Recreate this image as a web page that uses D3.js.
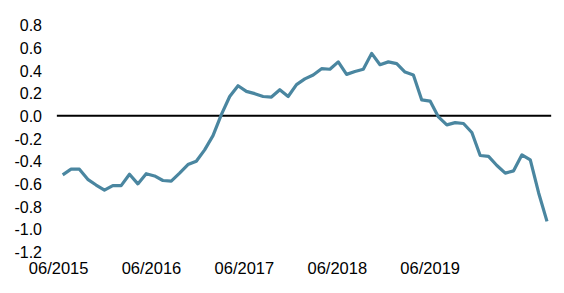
<!DOCTYPE html>
<html>
<head>
<meta charset="utf-8">
<script src="https://cdn.jsdelivr.net/npm/d3@7"></script>
<style>
  body { margin: 0; background: #fff; }
  svg text { font-family: "Liberation Sans", Arial, Helvetica, sans-serif; fill: #000; }
</style>
</head>
<body>
<svg></svg>
<script>
// monthly-ish readings, left to right
let values = [-0.52, -0.47, -0.47, -0.56, -0.61, -0.655, -0.615, -0.615, -0.515, -0.60,
              -0.51, -0.53, -0.57, -0.575, -0.505, -0.43, -0.40, -0.30, -0.175, 0.01,
              0.17, 0.265, 0.215, 0.195, 0.17, 0.165, 0.23, 0.17, 0.275, 0.325,
              0.36, 0.415, 0.41, 0.475, 0.365, 0.39, 0.41, 0.55, 0.45, 0.475,
              0.46, 0.385, 0.36, 0.14, 0.13, -0.01, -0.08, -0.06, -0.068, -0.147,
              -0.35, -0.358, -0.438, -0.505, -0.485, -0.344, -0.388, -0.68, -0.93]

let xTickLabels = ["06/2015", "06/2016", "06/2017", "06/2018", "06/2019"]
let xTickPos = [-0.55, 10.57, 21.7, 32.83, 43.95]   // where the labels sit on the index axis
let yTicks = [0.8, 0.6, 0.4, 0.2, 0.0, -0.2, -0.4, -0.6, -0.8, -1.0, -1.2]

let width = 564
let height = 293

let svg = d3.select('svg').attr("width", width).attr("height", height)

let xScale = d3.scaleLinear().domain([0, values.length - 1]).range([62.7, 547])
let yScale = d3.scaleLinear().domain([-1.2, 0.8]).range([252, 25])

// y labels
let yAxis = d3.axisLeft(yScale).tickValues(yTicks).tickFormat(d3.format(".1f")).tickSize(0).tickPadding(0)
let gy = svg.append("g").attr("transform", "translate(42,0)").call(yAxis)
gy.select(".domain").remove()
gy.selectAll("text").attr("font-size", 16).attr("font-family", null).attr("dy", "0.35em")
  .text(d => d3.format(".1f")(d).replace("−", "-"))

// x labels
let xAxis = d3.axisBottom(xScale).tickValues(xTickPos).tickFormat((d, i) => xTickLabels[i]).tickSize(0).tickPadding(0)
let gx = svg.append("g").attr("transform", "translate(0,262)").call(xAxis)
gx.select(".domain").remove()
gx.selectAll("text").attr("font-size", 16.5).attr("font-family", null)

// zero line
svg.append("line")
    .attr("x1", xScale(-0.7)).attr("x2", xScale(58.5))
    .attr("y1", yScale(0)).attr("y2", yScale(0))
    .attr("stroke", "#000").attr("stroke-width", 2)

let line = d3.line().x((d, i) => xScale(i)).y(d => yScale(d))

svg.append("path")
    .datum(values)
    .attr("d", line)
    .attr("fill", "none")
    .attr("stroke", "#4a86a0")
    .attr("stroke-width", 3.2)
    .attr("stroke-linejoin", "round")
</script>
</body>
</html>
